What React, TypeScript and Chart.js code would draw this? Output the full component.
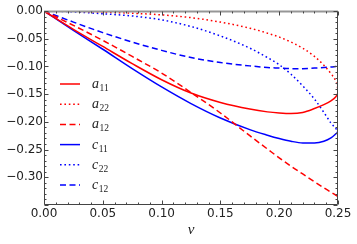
import { useEffect, useRef } from 'react';
import { Chart, registerables } from 'chart.js';
Chart.register(...registerables);

const nu = [0, 0.025, 0.05, 0.075, 0.1, 0.125, 0.15, 0.175, 0.19, 0.2, 0.21, 0.22, 0.23, 0.238, 0.244, 0.248, 0.2495, 0.25];
const a11 = [0, -0.033, -0.064, -0.095, -0.124, -0.148, -0.165, -0.177, -0.182, -0.184, -0.185, -0.183, -0.176, -0.169, -0.162, -0.155, -0.150, -0.1465];
const a22 = [0, -0.0005, -0.002, -0.004, -0.007, -0.012, -0.020, -0.031, -0.040, -0.047, -0.056, -0.067, -0.082, -0.098, -0.113, -0.126, -0.136, -0.147];
const a12 = [0, -0.026, -0.053, -0.082, -0.112, -0.147, -0.184, -0.225, -0.249, -0.265, -0.280, -0.294, -0.308, -0.319, -0.327, -0.332, -0.334, -0.335];
const c11 = [0, -0.035, -0.069, -0.104, -0.137, -0.167, -0.193, -0.214, -0.224, -0.230, -0.235, -0.238, -0.238, -0.235, -0.229, -0.222, -0.219, -0.216];
const c22 = [0, -0.0015, -0.005, -0.009, -0.016, -0.028, -0.045, -0.067, -0.084, -0.097, -0.114, -0.135, -0.159, -0.183, -0.202, -0.212, -0.215, -0.217];
const c12 = [0, -0.020, -0.039, -0.056, -0.071, -0.084, -0.093, -0.099, -0.102, -0.103, -0.104, -0.104, -0.103, -0.102, -0.101, -0.100, -0.099, -0.098];

const seriesLabels = ['a_11', 'a_22', 'a_12', 'c_11', 'c_22', 'c_12'];
const seriesValues = [a11, a22, a12, c11, c22, c12];
const seriesColors = ['rgb(255,0,0)', 'rgb(255,0,0)', 'rgb(255,0,0)', 'rgb(0,0,255)', 'rgb(0,0,255)', 'rgb(0,0,255)'];
const SOLID: number[] = [];
const DOTTED = [1.6, 2.8];
const DASHED = [6, 3.5];
const seriesDashes = [SOLID, DOTTED, DASHED, SOLID, DOTTED, DASHED];

const xMin = 0, xMax = 0.25, xStep = 0.05, xMinorStep = 0.01;
const yMin = -0.35, yMax = 0, yStep = 0.05, yMinorStep = 0.01;

const fmt = (v: number) => {
  const r = Math.round(v * 100) / 100;
  if (r < -0.345) return null;
  return (r < 0 ? '\u2212' : '') + Math.abs(r).toFixed(2);
};

const framePlugin = {
  id: 'framePlugin',
  afterDatasetsDraw(chart: any) {
    const { ctx, chartArea: a, scales } = chart;
    const xs = scales.x, ys = scales.y;
    ctx.save();
    const y0 = ys.getPixelForValue(0);
    ctx.strokeStyle = 'rgba(150,150,150,1)';
    ctx.lineWidth = 2;
    ctx.beginPath();
    ctx.moveTo(a.left, y0 + 0.5);
    ctx.lineTo(a.right, y0 + 0.5);
    ctx.stroke();
    ctx.strokeStyle = '#444';
    ctx.lineWidth = 1;
    const L = Math.round(a.left) + 0.5, R = Math.round(a.right) - 0.5;
    const T = Math.round(a.top) + 0.5, B = Math.round(a.bottom) - 0.5;
    ctx.beginPath();
    ctx.moveTo(L, T); ctx.lineTo(L, B); ctx.lineTo(R, B); ctx.lineTo(R, T);
    ctx.stroke();
    ctx.beginPath();
    const nx = Math.round((xMax - xMin) / xMinorStep);
    for (let i = 0; i <= nx; i++) {
      const v = xMin + i * xMinorStep;
      const major = i % Math.round(xStep / xMinorStep) === 0;
      const len = major ? 4 : 2;
      const px = Math.round(xs.getPixelForValue(v)) + 0.5;
      ctx.moveTo(px, B); ctx.lineTo(px, B - len);
      ctx.moveTo(px, T); ctx.lineTo(px, T + len);
    }
    const ny = Math.round((yMax - yMin) / yMinorStep);
    for (let i = 0; i <= ny; i++) {
      const v = yMax - i * yMinorStep;
      const major = i % Math.round(yStep / yMinorStep) === 0;
      const len = major ? 4 : 2;
      const py = Math.round(ys.getPixelForValue(v)) + 0.5;
      ctx.moveTo(L, py); ctx.lineTo(L + len, py);
      ctx.moveTo(R, py); ctx.lineTo(R - len, py);
    }
    ctx.stroke();
    ctx.restore();
  },
};

const legendPlugin = {
  id: 'mathLegend',
  afterDraw(chart: any) {
    const { ctx } = chart;
    ctx.save();
    chart.data.datasets.forEach((ds: any, i: number) => {
      const y = 84 + i * 20.2;
      ctx.strokeStyle = ds.borderColor;
      ctx.lineWidth = 1.5;
      ctx.setLineDash(ds.borderDash || []);
      ctx.beginPath();
      ctx.moveTo(60, y);
      ctx.lineTo(80, y);
      ctx.stroke();
      ctx.setLineDash([]);
      const [base, sub] = String(ds.label).split('_');
      ctx.fillStyle = '#222';
      ctx.textBaseline = 'alphabetic';
      ctx.textAlign = 'left';
      ctx.font = "italic 14px 'Liberation Serif'";
      ctx.fillText(base, 92, y + 4);
      const w = ctx.measureText(base).width;
      ctx.font = "9.5px 'Liberation Serif'";
      ctx.fillText(sub, 92 + w + 0.5, y + 7);
    });
    ctx.restore();
  },
};

export default function App() {
  const ref = useRef<HTMLCanvasElement | null>(null);
  useEffect(() => {
    if (!ref.current) return;
    const chart = new Chart(ref.current, {
      type: 'scatter',
      data: {
        datasets: seriesLabels.map((label, k) => ({
          label,
          data: nu.map((x, i) => ({ x, y: seriesValues[k][i] })),
          showLine: true,
          borderColor: seriesColors[k],
          backgroundColor: seriesColors[k],
          borderWidth: 1.5,
          borderDash: seriesDashes[k],
          pointRadius: 0,
          pointHoverRadius: 0,
          cubicInterpolationMode: 'monotone' as const,
          fill: false,
        })),
      },
      options: {
        responsive: false,
        animation: false,
        events: [],
        layout: { padding: { left: 0, right: 19, top: 11, bottom: 0 } },
        plugins: { legend: { display: false }, tooltip: { enabled: false }, title: { display: false } },
        scales: {
          x: {
            type: 'linear',
            min: xMin,
            max: xMax,
            grid: { display: false, drawTicks: false },
            border: { display: false },
            ticks: {
              stepSize: xStep,
              autoSkip: false,
              maxRotation: 0,
              padding: 2,
              color: '#222',
              font: { family: "'DejaVu Sans'", size: 12 },
              callback: (v: any) => fmt(Number(v)),
            },
            title: {
              display: true,
              text: 'ν',
              color: '#222',
              font: { family: "'Liberation Serif'", size: 15, style: 'italic' },
              padding: { top: 0, bottom: 5 },
            },
            afterFit: (s: any) => { s.height = 39; },
          },
          y: {
            type: 'linear',
            min: yMin,
            max: yMax,
            grid: { display: false, drawTicks: false },
            border: { display: false },
            ticks: {
              stepSize: yStep,
              autoSkip: false,
              padding: 1,
              color: '#222',
              font: { family: "'DejaVu Sans'", size: 12 },
              callback: (v: any) => fmt(Number(v)),
            },
            afterFit: (s: any) => { s.width = 44; },
          },
        },
      },
      plugins: [framePlugin, legendPlugin],
    });
    return () => chart.destroy();
  }, []);
  return (
    <div style={{ position: 'fixed', left: 0, top: 0, width: 357, height: 244, background: '#fff' }}>
      <canvas ref={ref} width={357} height={244} style={{ display: 'block' }} />
    </div>
  );
}
